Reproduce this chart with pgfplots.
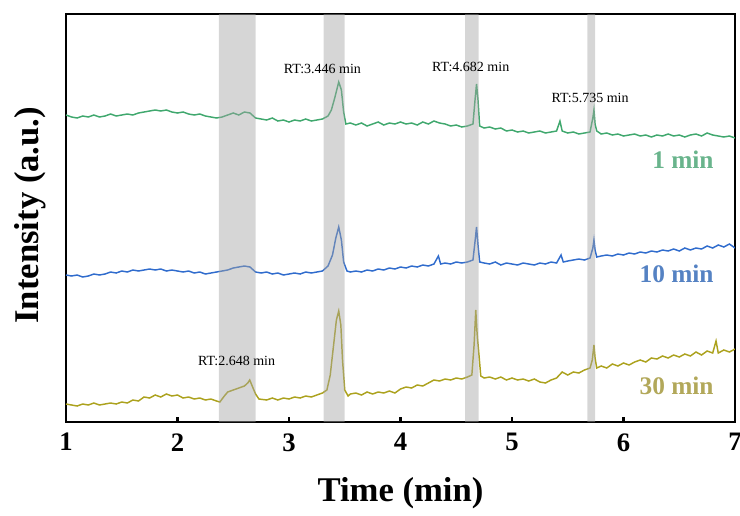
\documentclass[border=0pt]{standalone}
\usepackage{pgfplots}
\pgfplotsset{compat=1.18}
\usepackage{fontspec}
\setmainfont{Liberation Serif}
\definecolor{cgreen}{RGB}{64,168,110}
\definecolor{cblue}{RGB}{48,108,205}
\definecolor{colive}{RGB}{172,162,30}
\definecolor{lgreen}{RGB}{105,180,140}
\definecolor{lblue}{RGB}{85,130,195}
\definecolor{lolive}{RGB}{178,168,90}
\definecolor{band}{RGB}{165,165,165}
\begin{document}
\begin{tikzpicture}[x=0.75pt,y=0.75pt]
\begin{axis}[
  at={(0,0)}, anchor=south west,
  scale only axis, width=501.75pt, height=306pt,
  xmin=1, xmax=7, ymin=14, ymax=422, y dir=reverse,
  axis line style={line width=1.8pt},
  xtick={1,2,3,4,5,6,7}, ytick=\empty,
  tick align=inside, xtick pos=bottom,
  major tick length=4pt,
  every tick/.style={line width=1.8pt, black},
  /pgf/number format/assume math mode=true,
  xticklabel style={font=\fontsize{20}{22}\selectfont\bfseries, yshift=-5pt},
  xlabel={\textbf{Time (min)}},
  ylabel={\textbf{Intensity (a.u.)}},
  xlabel style={font=\fontsize{26}{28}\selectfont, at={(axis description cs:0.5,-0.174)}, anchor=center},
  ylabel style={font=\fontsize{26}{28}\selectfont, at={(axis description cs:-0.054,0.507)}, anchor=center},
  clip=true,
]
% 1 min
\addplot[cgreen, line width=1.1pt] coordinates {
(1.00,115) (1.05,117) (1.10,118) (1.15,116) (1.20,117) (1.25,115) (1.30,117) (1.35,116) (1.40,114) (1.45,116)
(1.50,115) (1.55,114) (1.60,115) (1.65,113) (1.70,112) (1.75,111) (1.80,110) (1.85,111) (1.90,110) (1.95,112)
(2.00,113) (2.05,112) (2.10,114) (2.15,115) (2.20,114) (2.25,116) (2.30,117) (2.35,118) (2.40,117) (2.45,115)
(2.50,113) (2.55,115) (2.60,112) (2.65,113) (2.70,118) (2.75,119) (2.80,120) (2.85,118) (2.90,121) (2.95,120)
(3.00,122) (3.05,120) (3.10,121) (3.15,119) (3.20,121) (3.25,120) (3.30,119) (3.35,116) (3.38,110) (3.41,98)
(3.446,82) (3.47,90) (3.49,112) (3.51,124) (3.55,123) (3.60,125) (3.65,123) (3.70,126) (3.75,124) (3.80,122)
(3.85,125) (3.90,123) (3.95,124) (4.00,122) (4.05,124) (4.10,123) (4.15,125) (4.20,122) (4.25,124) (4.30,121)
(4.35,123) (4.40,124) (4.45,126) (4.50,125) (4.55,127) (4.60,126) (4.65,124) (4.67,98) (4.682,84) (4.695,100)
(4.71,126) (4.75,128) (4.80,127) (4.85,129) (4.90,128) (4.95,131) (5.00,130) (5.05,132) (5.10,131) (5.15,133)
(5.20,132) (5.25,131) (5.30,133) (5.35,132) (5.40,131) (5.43,121) (5.45,131) (5.50,133) (5.55,132) (5.60,134)
(5.65,133) (5.70,132) (5.725,118) (5.735,110) (5.745,124) (5.76,131) (5.80,134) (5.85,133) (5.90,135) (5.95,134)
(6.00,136) (6.05,135) (6.10,134) (6.15,136) (6.20,135) (6.25,137) (6.30,135) (6.35,136) (6.40,134) (6.45,136)
(6.50,135) (6.55,137) (6.60,135) (6.65,134) (6.70,136) (6.75,133) (6.80,135) (6.85,136) (6.90,137) (6.95,136) (7.00,138)
};
% 10 min
\addplot[cblue, line width=1.1pt] coordinates {
(1.00,275) (1.05,276) (1.10,275) (1.15,277) (1.20,276) (1.25,274) (1.30,275) (1.35,274) (1.40,272) (1.45,273)
(1.50,271) (1.55,272) (1.60,270) (1.65,271) (1.70,270) (1.75,269) (1.80,270) (1.85,269) (1.90,271) (1.95,270)
(2.00,271) (2.05,272) (2.10,271) (2.15,273) (2.20,272) (2.25,274) (2.30,273) (2.35,272) (2.40,271) (2.45,270)
(2.50,268) (2.55,267) (2.60,266) (2.65,267) (2.70,272) (2.75,273) (2.80,272) (2.85,274) (2.90,273) (2.95,275)
(3.00,274) (3.05,273) (3.10,274) (3.15,272) (3.20,273) (3.25,272) (3.30,271) (3.35,266) (3.39,255) (3.42,238)
(3.446,227) (3.47,240) (3.49,262) (3.52,271) (3.55,272) (3.60,271) (3.65,272) (3.70,270) (3.75,271) (3.80,269)
(3.85,270) (3.90,268) (3.95,269) (4.00,267) (4.05,268) (4.10,266) (4.15,267) (4.20,265) (4.25,266) (4.30,264)
(4.34,256) (4.36,264) (4.40,263) (4.45,264) (4.50,262) (4.55,263) (4.60,262) (4.65,260) (4.67,240) (4.682,227)
(4.695,245) (4.71,262) (4.75,263) (4.80,264) (4.85,262) (4.90,265) (4.95,263) (5.00,264) (5.05,265) (5.10,263)
(5.15,264) (5.20,265) (5.25,263) (5.30,264) (5.35,262) (5.40,263) (5.44,255) (5.46,262) (5.50,261) (5.55,260)
(5.60,259) (5.65,260) (5.70,258) (5.725,248) (5.735,240) (5.745,250) (5.76,257) (5.80,256) (5.85,255) (5.90,256)
(5.95,254) (6.00,255) (6.05,253) (6.10,254) (6.15,252) (6.20,253) (6.25,251) (6.30,252) (6.35,250) (6.40,251)
(6.45,249) (6.50,251) (6.55,248) (6.60,250) (6.65,248) (6.70,249) (6.75,246) (6.80,248) (6.85,245) (6.90,247) (6.95,244) (7.00,248)
};
% 30 min
\addplot[colive, line width=1.1pt] coordinates {
(1.00,404) (1.05,405) (1.10,406) (1.15,404) (1.20,405) (1.25,403) (1.30,405) (1.35,404) (1.40,403) (1.45,404)
(1.50,402) (1.55,403) (1.60,400) (1.65,401) (1.70,397) (1.75,398) (1.80,395) (1.85,397) (1.90,394) (1.95,396)
(2.00,395) (2.05,398) (2.10,397) (2.15,399) (2.20,398) (2.25,400) (2.30,399) (2.35,401) (2.38,402) (2.42,396)
(2.45,392) (2.50,390) (2.55,388) (2.60,386) (2.63,383) (2.648,380) (2.67,386) (2.70,394) (2.73,399) (2.80,400)
(2.85,398) (2.90,400) (2.95,398) (3.00,399) (3.05,397) (3.10,398) (3.15,396) (3.20,397) (3.25,395) (3.30,393)
(3.34,390) (3.37,375) (3.40,345) (3.425,320) (3.446,311) (3.465,325) (3.48,360) (3.50,390) (3.53,396) (3.55,394)
(3.60,393) (3.65,395) (3.70,392) (3.75,394) (3.80,392) (3.85,393) (3.90,391) (3.95,393) (4.00,389) (4.05,387)
(4.10,388) (4.15,385) (4.20,386) (4.25,383) (4.30,380) (4.35,381) (4.40,379) (4.45,380) (4.50,378) (4.55,379)
(4.60,377) (4.64,375) (4.66,345) (4.675,310) (4.685,330) (4.69,338) (4.70,350) (4.72,376) (4.75,378) (4.80,377)
(4.85,379) (4.90,377) (4.95,380) (5.00,378) (5.05,380) (5.10,379) (5.15,381) (5.20,379) (5.25,382) (5.30,383)
(5.35,380) (5.40,378) (5.45,372) (5.50,375) (5.55,372) (5.60,373) (5.65,370) (5.70,368) (5.72,360) (5.735,345)
(5.745,358) (5.76,368) (5.80,366) (5.85,368) (5.90,364) (5.95,366) (6.00,363) (6.05,365) (6.10,362) (6.15,360)
(6.20,362) (6.25,358) (6.30,359) (6.35,356) (6.40,358) (6.45,355) (6.50,357) (6.55,354) (6.60,356) (6.65,352)
(6.70,355) (6.75,351) (6.80,353) (6.83,341) (6.85,353) (6.90,350) (6.95,352) (7.00,349)
};
% highlight bands
\addplot[draw=none, fill=band, fill opacity=0.45] coordinates {(2.37,14) (2.70,14) (2.70,422) (2.37,422)} \closedcycle;
\addplot[draw=none, fill=band, fill opacity=0.45] coordinates {(3.31,14) (3.50,14) (3.50,422) (3.31,422)} \closedcycle;
\addplot[draw=none, fill=band, fill opacity=0.45] coordinates {(4.58,14) (4.70,14) (4.70,422) (4.58,422)} \closedcycle;
\addplot[draw=none, fill=band, fill opacity=0.45] coordinates {(5.675,14) (5.745,14) (5.745,422) (5.675,422)} \closedcycle;
% annotations
\node[font=\fontsize{10.5}{12}\selectfont] at (axis cs:3.30,69) {RT:3.446 min};
\node[font=\fontsize{10.5}{12}\selectfont] at (axis cs:4.63,67) {RT:4.682 min};
\node[font=\fontsize{10.5}{12}\selectfont] at (axis cs:5.70,98) {RT:5.735 min};
\node[font=\fontsize{10.5}{12}\selectfont] at (axis cs:2.53,361) {RT:2.648 min};
\node[font=\fontsize{19}{21}\selectfont\bfseries, text=lgreen, anchor=east] at (axis cs:6.85,160) {1 min};
\node[font=\fontsize{19}{21}\selectfont\bfseries, text=lblue, anchor=east] at (axis cs:6.85,274) {10 min};
\node[font=\fontsize{19}{21}\selectfont\bfseries, text=lolive, anchor=east] at (axis cs:6.85,386) {30 min};
\end{axis}
\pgfresetboundingbox
\useasboundingbox (-66,-93) rectangle (674,422);
\end{tikzpicture}
\end{document}
